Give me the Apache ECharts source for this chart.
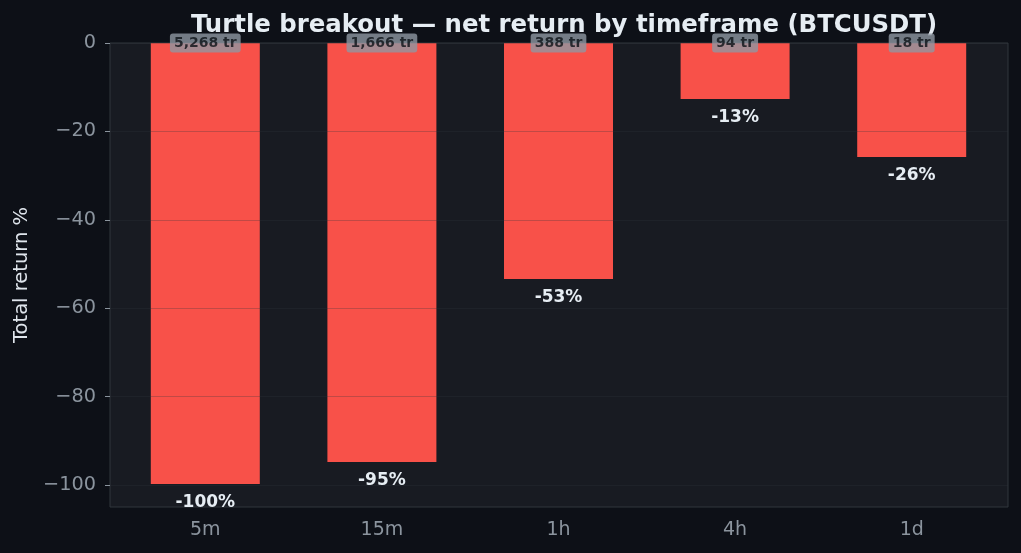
<!DOCTYPE html>
<html><head><meta charset="utf-8">
<script src="https://cdn.jsdelivr.net/npm/echarts@6/dist/echarts.min.js"></script>
<style>html,body{margin:0;padding:0;background:#0d1017;}#c{width:1021px;height:553px;}</style>
</head><body><div id="c"></div>
<script>
const categories = ['5m', '15m', '1h', '4h', '1d'];
const returnsPct = [-99.8, -94.8, -53.4, -12.7, -25.8];
const tradeCounts = [5268, 1666, 388, 94, 18];
const yTicks = [-100, -80, -60, -40, -20, 0];
const yMin = -105, yMax = 0;

const font = 'DejaVu Sans';
const chart = echarts.init(document.getElementById('c'), null, {renderer: 'canvas'});
const fmtMinus = v => String(v).replace('-', '\u2212');
chart.setOption({
  backgroundColor: '#0d1017',
  animation: false,
  textStyle: {fontFamily: font},
  title: {
    text: 'Turtle breakout \u2014 net return by timeframe (BTCUSDT)',
    left: 559, top: 9, textAlign: 'center',
    textStyle: {color: '#e6edf3', fontSize: 24.4, fontWeight: 'bold', fontFamily: font}
  },
  grid: [
    {left: 110, right: 13, top: 43, bottom: 46, show: true, backgroundColor: '#181b22', borderColor: '#30363d', borderWidth: 1, z: 0},
    {left: 117, right: 21, top: 43, bottom: 46, show: false}
  ],
  xAxis: [
    {gridIndex: 0, type: 'value', min: 0, max: 1, show: false},
    {gridIndex: 1, type: 'category', data: categories,
     axisLine: {show: false},
     axisTick: {show: true, alignWithLabel: true, length: 5, lineStyle: {color: '#8b949e'}},
     axisLabel: {color: '#8b949e', fontSize: 19, margin: 14, fontFamily: font},
     splitLine: {show: false}}
  ],
  yAxis: [
    {gridIndex: 0, type: 'value', min: yMin, max: yMax, z: 5,
     name: 'Total return %', nameLocation: 'middle', nameGap: 78, nameRotate: 90,
     nameTextStyle: {color: '#dfe5ec', fontSize: 19.5, fontFamily: font},
     axisLine: {show: false},
     axisTick: {show: true, length: 5, customValues: yTicks, lineStyle: {color: '#8b949e'}},
     axisLabel: {color: '#8b949e', fontSize: 19.3, margin: 14, customValues: yTicks, formatter: v => fmtMinus(v), fontFamily: font},
     splitLine: {show: true, lineStyle: {color: 'rgba(48,54,61,0.28)', width: 1}}},
    {gridIndex: 1, type: 'value', min: yMin, max: yMax, show: false, splitLine: {show: false}}
  ],
  series: [
    {type: 'bar', xAxisIndex: 1, yAxisIndex: 1, data: returnsPct, barWidth: 109, z: 2,
     itemStyle: {color: '#f85149'},
     label: {show: true, position: 'bottom', distance: 10, color: '#e6edf3', fontWeight: 'bold', fontSize: 17, fontFamily: font,
       formatter: p => Math.round(p.value) + '%'}},
    {type: 'scatter', xAxisIndex: 1, yAxisIndex: 1, data: tradeCounts.map(() => 0), symbolSize: 0, z: 10,
     label: {show: true, position: 'inside', color: '#0d1117', fontWeight: 'bold', fontSize: 14, fontFamily: font,
       backgroundColor: '#8e97a2', padding: [3, 4, 2, 4], borderRadius: 3,
       formatter: p => tradeCounts[p.dataIndex].toLocaleString('en-US') + ' tr'}}
  ]
});
</script></body></html>
